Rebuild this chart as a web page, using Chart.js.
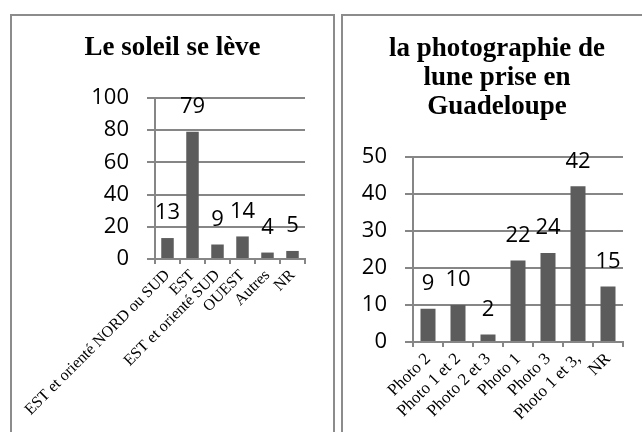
<!DOCTYPE html>
<html>
<head>
<meta charset="utf-8">
<title>Le soleil se lève - la photographie de lune</title>
<script src="https://cdn.jsdelivr.net/npm/chart.js@4.4.0/dist/chart.umd.min.js"></script>
<style>
    body { margin: 0; background: #fff; width: 642px; height: 432px; overflow: hidden; position: relative; }
    .panel { position: absolute; top: 14px; border: 2px solid #8c8c8c; background: #fff; height: 440px; }
    #panelSoleil { left: 10px; width: 321px; }
    #panelLune { left: 341px; width: 320px; }
    canvas { display: block; }
</style>
</head>
<body>
<div class="panel" id="panelSoleil"><canvas id="chartSoleil" width="321" height="418"></canvas></div>
<div class="panel" id="panelLune"><canvas id="chartLune" width="308" height="418"></canvas></div>
<script>
// answers to "Le soleil se lève"
const soleilLabels = ['EST et orienté NORD ou SUD', 'EST', 'EST et orienté SUD', 'OUEST', 'Autres', 'NR'];
const soleilValues = [13, 79, 9, 14, 4, 5];
const soleilMax = 100;
const soleilStep = 20;

// answers to "la photographie de lune prise en Guadeloupe"
const luneLabels = ['Photo 2', 'Photo 1 et 2', 'Photo 2 et 3', 'Photo 1', 'Photo 3', 'Photo 1 et 3,', 'NR'];
const luneValues = [9, 10, 2, 22, 24, 42, 15];
const luneMax = 50;
const luneStep = 10;

const GRAY = '#868686';
const BAR = '#5c5c5c';
const NUM_FONT = '"Open Sans", sans-serif';
const SERIF = '"Liberation Serif", "Times New Roman", serif';

// prints each value above its bar
const valueLabels = {
    id: 'valueLabels',
    afterDatasetsDraw(chart) {
        const ctx = chart.ctx;
        const meta = chart.getDatasetMeta(0);
        ctx.save();
        ctx.font = '22px ' + NUM_FONT;
        ctx.fillStyle = '#000';
        ctx.textAlign = 'center';
        ctx.textBaseline = 'middle';
        meta.data.forEach((bar, i) => {
            ctx.fillText(String(chart.data.datasets[0].data[i]), bar.x, bar.y - 25);
        });
        ctx.restore();
    }
};

function barChart(id, title, labels, values, max, step, o) {
    return new Chart(document.getElementById(id), {
        type: 'bar',
        data: {
            labels: labels,
            datasets: [{
                data: values,
                backgroundColor: BAR,
                borderWidth: 0,
                barPercentage: 0.5,
                categoryPercentage: 1
            }]
        },
        options: {
            responsive: false,
            animation: false,
            events: [],
            plugins: {
                legend: { display: false },
                tooltip: { enabled: false },
                title: {
                    display: true,
                    text: title,
                    color: '#000',
                    font: { family: SERIF, size: 27, weight: 'bold', lineHeight: 1.07 },
                    padding: { top: o.titleTop, bottom: o.titleBottom }
                }
            },
            scales: {
                x: {
                    grid: { offset: true, drawOnChartArea: false, drawTicks: true, tickLength: 5, color: GRAY, lineWidth: 2 },
                    border: { color: GRAY, width: 2 },
                    ticks: {
                        autoSkip: false, minRotation: 45, maxRotation: 45, padding: 2,
                        color: '#000', font: { family: SERIF, size: o.xFont }
                    },
                    afterFit(scale) { scale.height = o.xHeight; }
                },
                y: {
                    min: 0,
                    max: max,
                    grid: { color: GRAY, lineWidth: 2, tickLength: 8 },
                    border: { color: GRAY, width: 2 },
                    ticks: { stepSize: step, padding: 18, color: '#000', font: { family: NUM_FONT, size: 22 } },
                    afterFit(scale) { scale.width = o.yWidth; }
                },
                // empty strip on the right, so the plot ends before the frame
                // while the title stays centred on the whole panel
                gap: {
                    position: 'right',
                    grid: { display: false },
                    border: { display: false },
                    ticks: { display: false },
                    afterFit(scale) { scale.width = 28; }
                }
            }
        },
        plugins: [valueLabels]
    });
}

Promise.all([
    document.fonts.load('22px "Open Sans"'),
    document.fonts.load('bold 27px "Liberation Serif"'),
    document.fonts.load('16px "Liberation Serif"')
]).catch(() => {}).then(() => {
    barChart('chartSoleil', 'Le soleil se lève', soleilLabels, soleilValues, soleilMax, soleilStep,
        { titleTop: 18, titleBottom: 35, xFont: 16, xHeight: 175, yWidth: 143 });
    barChart('chartLune', ['la photographie de', 'lune prise en', 'Guadeloupe'], luneLabels, luneValues, luneMax, luneStep,
        { titleTop: 19, titleBottom: 35, xFont: 17, xHeight: 92, yWidth: 70 });
});
</script>
</body>
</html>
